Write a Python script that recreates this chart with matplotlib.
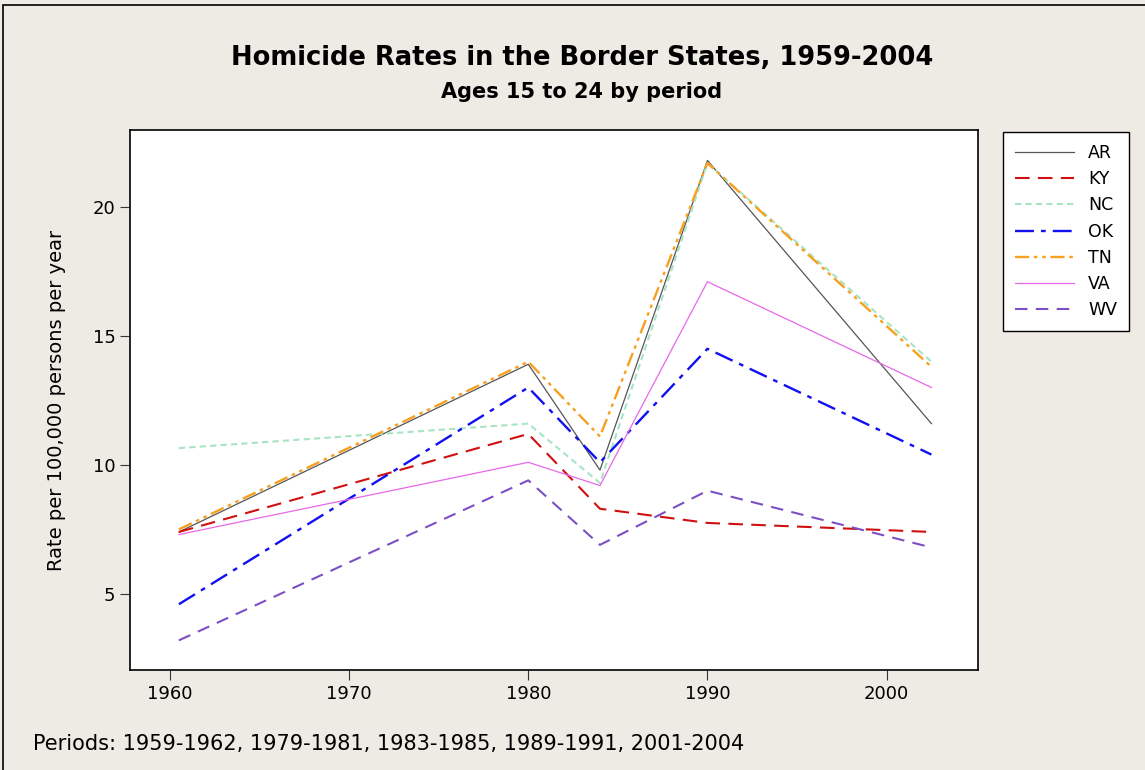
import matplotlib
matplotlib.use("Agg")
import matplotlib.pyplot as plt
from matplotlib.patches import Rectangle

# period midpoints
periodes = [1960.5, 1980, 1984, 1990, 2002.5]

AR = [7.4, 13.9, 9.8, 21.8, 11.6]
KY = [7.4, 11.2, 8.3, 7.75, 7.4]
NC = [10.65, 11.6, 9.3, 21.7, 14.0]
OK = [4.6, 13.0, 10.1, 14.5, 10.4]
TN = [7.5, 14.0, 11.1, 21.7, 13.8]
VA = [7.3, 10.1, 9.2, 17.1, 13.0]
WV = [3.2, 9.4, 6.9, 9.0, 6.8]

etats = ["AR", "KY", "NC", "OK", "TN", "VA", "WV"]
series = [AR, KY, NC, OK, TN, VA, WV]
couleurs = ["#555555", "#d01010", "#a8e4c4", "#1010f0", "#f8a020", "#e868e8", "#7c50c4"]
styles = ["-", (0, (7, 4)), (0, (3, 2)), (0, (8, 3, 2, 3)), (0, (6, 2, 1.5, 2, 1.5, 2)), "-", (0, (6, 4))]
largeurs = [0.9, 1.5, 1.5, 1.7, 1.7, 0.9, 1.5]

fond = "#eeeae4"
plt.rcParams['font.family'] = ['DejaVu Sans']

fig = plt.figure(figsize=(11.45, 7.7), dpi=100, facecolor=fond)
ax = fig.add_axes([130/1145, 1 - 670/770, 848/1145, 540/770])
ax.set_facecolor("white")

for nom, val, c, ls, lw in zip(etats, series, couleurs, styles, largeurs):
    ax.plot(periodes, val, color=c, linestyle=ls, linewidth=lw, label=nom)

ax.set_xlim(1957.77, 2005.1)
ax.set_ylim(2.05, 22.98)
ax.set_xticks([1960, 1970, 1980, 1990, 2000])
ax.set_yticks([5, 10, 15, 20])
ax.tick_params(direction="out", length=7, width=0.8, labelsize=13, colors="#333333", labelcolor="black")
for s in ax.spines.values():
    s.set_linewidth(1.2)
ax.set_ylabel("Rate per 100,000 persons per year", fontsize=14)
ax.yaxis.set_label_coords(-64/848, 0.5)

fig.text(582/1145, 1 - 58/770, "Homicide Rates in the Border States, 1959-2004",
         ha="center", va="center", fontsize=18.5, fontweight="bold")
fig.text(582/1145, 1 - 92/770, "Ages 15 to 24 by period",
         ha="center", va="center", fontsize=15, fontweight="bold")
fig.text(33/1145, 1 - 744/770, "Periods: 1959-1962, 1979-1981, 1983-1985, 1989-1991, 2001-2004",
         ha="left", va="center", fontsize=15)

leg = fig.legend(loc="upper left", bbox_to_anchor=(1003/1145, 1 - 132/770),
                 borderaxespad=0, frameon=True, fancybox=False, edgecolor="black",
                 facecolor="white", framealpha=1,
                 fontsize=12.5, handlelength=3.4, handletextpad=0.8,
                 labelspacing=0.47, borderpad=0.7)
leg.get_frame().set_linewidth(1.0)

fig.patches.append(Rectangle((3/1145, -0.1), 1.2, 1.1 - 5/770, transform=fig.transFigure,
                             fill=False, edgecolor="black", linewidth=1.2))

fig.savefig("out.png", dpi=100, facecolor=fond)
